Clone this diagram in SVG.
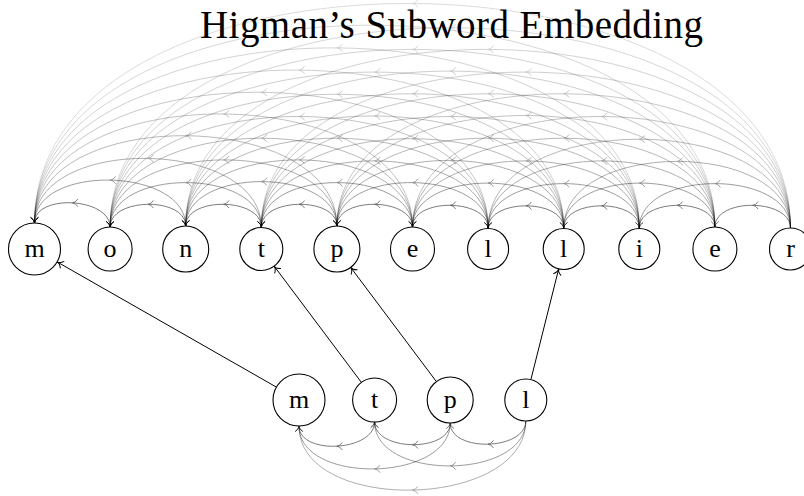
<svg xmlns="http://www.w3.org/2000/svg" xmlns:xlink="http://www.w3.org/1999/xlink" width="804" height="496" viewBox="0 0 804 496">
<defs>
<style>
.title{font-family:"Liberation Serif","DejaVu Serif",serif;font-size:39px;fill:#000}
.lbl{font-family:"Liberation Serif","DejaVu Serif",serif;font-size:26px;fill:#000;text-anchor:middle}
.node circle{fill:none;stroke:#000;stroke-width:1.1}
.c path,.c use{fill:none;stroke:#000;stroke-width:0.85}
.c .arc path{marker-end:url(#ah)}
.c .map{stroke-width:1;marker-end:url(#ahb)}
.k1{opacity:.6}.k2{opacity:.45}.k3{opacity:.37}.k4{opacity:.32}.k5{opacity:.28}
.k6{opacity:.25}.k7{opacity:.22}.k8{opacity:.2}.k9{opacity:.18}.k10{opacity:.16}
</style>
<marker id="ah" markerUnits="userSpaceOnUse" orient="auto" overflow="visible" markerWidth="10" markerHeight="10" refX="0" refY="0">
<path d="M -5.5 -3.8 Q -3 0 0 0 Q -3 0 -5.5 3.8" fill="none" stroke="#000" stroke-width="0.85"/>
</marker>
<marker id="ahb" markerUnits="userSpaceOnUse" orient="auto" overflow="visible" markerWidth="10" markerHeight="10" refX="0" refY="0">
<path d="M -6 -4 Q -3.2 0 0 0 Q -3.2 0 -6 4" fill="none" stroke="#000" stroke-width="1"/>
</marker>
<path id="mid" d="M 5.5 -3.8 Q 3 0 0 0 Q 3 0 5.5 3.8"/>
</defs>

<text class="title" x="200" y="37.5" textLength="503">Higman’s Subword Embedding</text>

<g id="connectors" class="c">
<!-- top arcs, distance 1 -->
<g class="arc k1"><path d="M 110.1 227 C 110.1 197.4 34.5 193.4 34.5 223"/><use href="#mid" x="72.3" y="202.8"/></g>
<g class="arc k1"><path d="M 185.7 226 C 185.7 196.4 110.1 197.4 110.1 227"/><use href="#mid" x="147.9" y="204.3"/></g>
<g class="arc k1"><path d="M 261.3 227 C 261.3 197.4 185.7 196.4 185.7 226"/><use href="#mid" x="223.5" y="204.3"/></g>
<g class="arc k1"><path d="M 336.9 226 C 336.9 196.4 261.3 197.4 261.3 227"/><use href="#mid" x="299.1" y="204.3"/></g>
<g class="arc k1"><path d="M 412.5 227 C 412.5 197.4 336.9 196.4 336.9 226"/><use href="#mid" x="374.7" y="204.3"/></g>
<g class="arc k1"><path d="M 488.1 228 C 488.1 198.4 412.5 197.4 412.5 227"/><use href="#mid" x="450.3" y="205.3"/></g>
<g class="arc k1"><path d="M 563.7 228 C 563.7 198.4 488.1 198.4 488.1 228"/><use href="#mid" x="525.9" y="205.8"/></g>
<g class="arc k1"><path d="M 639.3 228 C 639.3 198.4 563.7 198.4 563.7 228"/><use href="#mid" x="601.5" y="205.8"/></g>
<g class="arc k1"><path d="M 714.9 227 C 714.9 197.4 639.3 198.4 639.3 228"/><use href="#mid" x="677.1" y="205.3"/></g>
<g class="arc k1"><path d="M 790.5 228 C 790.5 198.4 714.9 197.4 714.9 227"/><use href="#mid" x="752.7" y="205.3"/></g>
<!-- distance 2 -->
<g class="arc k2"><path d="M 185.7 226 C 185.7 166.8 34.5 163.8 34.5 223"/><use href="#mid" x="110.1" y="180.1"/></g>
<g class="arc k2"><path d="M 261.3 227 C 261.3 167.8 110.1 167.8 110.1 227"/><use href="#mid" x="185.7" y="182.6"/></g>
<g class="arc k2"><path d="M 336.9 226 C 336.9 166.8 185.7 166.8 185.7 226"/><use href="#mid" x="261.3" y="181.6"/></g>
<g class="arc k2"><path d="M 412.5 227 C 412.5 167.8 261.3 167.8 261.3 227"/><use href="#mid" x="336.9" y="182.6"/></g>
<g class="arc k2"><path d="M 488.1 228 C 488.1 168.8 336.9 166.8 336.9 226"/><use href="#mid" x="412.5" y="182.6"/></g>
<g class="arc k2"><path d="M 563.7 228 C 563.7 168.8 412.5 167.8 412.5 227"/><use href="#mid" x="488.1" y="183.1"/></g>
<g class="arc k2"><path d="M 639.3 228 C 639.3 168.8 488.1 168.8 488.1 228"/><use href="#mid" x="563.7" y="183.6"/></g>
<g class="arc k2"><path d="M 714.9 227 C 714.9 167.8 563.7 168.8 563.7 228"/><use href="#mid" x="639.3" y="183.1"/></g>
<g class="arc k2"><path d="M 790.5 228 C 790.5 168.8 639.3 168.8 639.3 228"/><use href="#mid" x="714.9" y="183.6"/></g>
<!-- distance 3 -->
<g class="arc k3"><path d="M 261.3 227 C 261.3 138.2 34.5 134.2 34.5 223"/><use href="#mid" x="147.9" y="158.4"/></g>
<g class="arc k3"><path d="M 336.9 226 C 336.9 137.2 110.1 138.2 110.1 227"/><use href="#mid" x="223.5" y="159.9"/></g>
<g class="arc k3"><path d="M 412.5 227 C 412.5 138.2 185.7 137.2 185.7 226"/><use href="#mid" x="299.1" y="159.9"/></g>
<g class="arc k3"><path d="M 488.1 228 C 488.1 139.2 261.3 138.2 261.3 227"/><use href="#mid" x="374.7" y="160.9"/></g>
<g class="arc k3"><path d="M 563.7 228 C 563.7 139.2 336.9 137.2 336.9 226"/><use href="#mid" x="450.3" y="160.4"/></g>
<g class="arc k3"><path d="M 639.3 228 C 639.3 139.2 412.5 138.2 412.5 227"/><use href="#mid" x="525.9" y="160.9"/></g>
<g class="arc k3"><path d="M 714.9 227 C 714.9 138.2 488.1 139.2 488.1 228"/><use href="#mid" x="601.5" y="160.9"/></g>
<g class="arc k3"><path d="M 790.5 228 C 790.5 139.2 563.7 139.2 563.7 228"/><use href="#mid" x="677.1" y="161.4"/></g>
<!-- distance 4 -->
<g class="arc k4"><path d="M 336.9 226 C 336.9 107.6 34.5 104.6 34.5 223"/><use href="#mid" x="185.7" y="135.7"/></g>
<g class="arc k4"><path d="M 412.5 227 C 412.5 108.6 110.1 108.6 110.1 227"/><use href="#mid" x="261.3" y="138.2"/></g>
<g class="arc k4"><path d="M 488.1 228 C 488.1 109.6 185.7 107.6 185.7 226"/><use href="#mid" x="336.9" y="138.2"/></g>
<g class="arc k4"><path d="M 563.7 228 C 563.7 109.6 261.3 108.6 261.3 227"/><use href="#mid" x="412.5" y="138.7"/></g>
<g class="arc k4"><path d="M 639.3 228 C 639.3 109.6 336.9 107.6 336.9 226"/><use href="#mid" x="488.1" y="138.2"/></g>
<g class="arc k4"><path d="M 714.9 227 C 714.9 108.6 412.5 108.6 412.5 227"/><use href="#mid" x="563.7" y="138.2"/></g>
<g class="arc k4"><path d="M 790.5 228 C 790.5 109.6 488.1 109.6 488.1 228"/><use href="#mid" x="639.3" y="139.2"/></g>
<!-- distance 5 -->
<g class="arc k5"><path d="M 412.5 227 C 412.5 79 34.5 75 34.5 223"/><use href="#mid" x="223.5" y="114"/></g>
<g class="arc k5"><path d="M 488.1 228 C 488.1 80 110.1 79 110.1 227"/><use href="#mid" x="299.1" y="116.5"/></g>
<g class="arc k5"><path d="M 563.7 228 C 563.7 80 185.7 78 185.7 226"/><use href="#mid" x="374.7" y="116"/></g>
<g class="arc k5"><path d="M 639.3 228 C 639.3 80 261.3 79 261.3 227"/><use href="#mid" x="450.3" y="116.5"/></g>
<g class="arc k5"><path d="M 714.9 227 C 714.9 79 336.9 78 336.9 226"/><use href="#mid" x="525.9" y="115.5"/></g>
<g class="arc k5"><path d="M 790.5 228 C 790.5 80 412.5 79 412.5 227"/><use href="#mid" x="601.5" y="116.5"/></g>
<!-- distance 6 -->
<g class="arc k6"><path d="M 488.1 228 C 488.1 50.4 34.5 45.4 34.5 223"/><use href="#mid" x="261.3" y="92.3"/></g>
<g class="arc k6"><path d="M 563.7 228 C 563.7 50.4 110.1 49.4 110.1 227"/><use href="#mid" x="336.9" y="94.3"/></g>
<g class="arc k6"><path d="M 639.3 228 C 639.3 50.4 185.7 48.4 185.7 226"/><use href="#mid" x="412.5" y="93.8"/></g>
<g class="arc k6"><path d="M 714.9 227 C 714.9 49.4 261.3 49.4 261.3 227"/><use href="#mid" x="488.1" y="93.8"/></g>
<g class="arc k6"><path d="M 790.5 228 C 790.5 50.4 336.9 48.4 336.9 226"/><use href="#mid" x="563.7" y="93.8"/></g>
<!-- distance 7 -->
<g class="arc k7"><path d="M 563.7 228 C 563.7 20.8 34.5 15.8 34.5 223"/><use href="#mid" x="299.1" y="70.1"/></g>
<g class="arc k7"><path d="M 639.3 228 C 639.3 20.8 110.1 19.8 110.1 227"/><use href="#mid" x="374.7" y="72.1"/></g>
<g class="arc k7"><path d="M 714.9 227 C 714.9 19.8 185.7 18.8 185.7 226"/><use href="#mid" x="450.3" y="71.1"/></g>
<g class="arc k7"><path d="M 790.5 228 C 790.5 20.8 261.3 19.8 261.3 227"/><use href="#mid" x="525.9" y="72.1"/></g>
<!-- distance 8 -->
<g class="arc k8"><path d="M 639.3 228 C 639.3 -8.8 34.5 -13.8 34.5 223"/><use href="#mid" x="336.9" y="47.9"/></g>
<g class="arc k8"><path d="M 714.9 227 C 714.9 -9.8 110.1 -9.8 110.1 227"/><use href="#mid" x="412.5" y="49.4"/></g>
<g class="arc k8"><path d="M 790.5 228 C 790.5 -8.8 185.7 -10.8 185.7 226"/><use href="#mid" x="488.1" y="49.4"/></g>
<!-- distance 9 -->
<g class="arc k9"><path d="M 714.9 227 C 714.9 -39.4 34.5 -43.4 34.5 223"/><use href="#mid" x="374.7" y="25.2"/></g>
<g class="arc k9"><path d="M 790.5 228 C 790.5 -38.4 110.1 -39.4 110.1 227"/><use href="#mid" x="450.3" y="27.7"/></g>
<!-- distance 10 -->
<g class="arc k10"><path d="M 790.5 228 C 790.5 -68 34.5 -73 34.5 223"/><use href="#mid" x="412.5" y="3.5"/></g>

<!-- bottom arcs -->
<g class="arc k1"><path d="M 374.6 422 C 374.6 451.6 299 455.6 299 426"/><use href="#mid" x="336.8" y="446.2"/></g>
<g class="arc k1"><path d="M 450.2 423 C 450.2 452.6 374.6 451.6 374.6 422"/><use href="#mid" x="412.4" y="444.7"/></g>
<g class="arc k1"><path d="M 525.8 421 C 525.8 450.6 450.2 452.6 450.2 423"/><use href="#mid" x="488" y="444.2"/></g>
<g class="arc k2"><path d="M 450.2 423 C 450.2 482.2 299 485.2 299 426"/><use href="#mid" x="374.6" y="468.9"/></g>
<g class="arc k2"><path d="M 525.8 421 C 525.8 480.2 374.6 481.2 374.6 422"/><use href="#mid" x="450.2" y="465.9"/></g>
<g class="arc k3"><path d="M 525.8 421 C 525.8 509.8 299 514.8 299 426"/><use href="#mid" x="412.4" y="490.1"/></g>

<!-- embedding map -->
<path class="map" d="M 276.4 387.1 L 57.1 261.9"/>
<path class="map" d="M 361.4 382.4 L 274.2 266.2"/>
<path class="map" d="M 436.4 381.6 L 350.7 267.4"/>
<path class="map" d="M 530.9 379.6 L 558.7 268.9"/>
</g>

<g id="top-m" class="node"><circle cx="34.5" cy="249" r="26"/><text class="lbl" x="34.5" y="257">m</text></g>
<g id="top-o" class="node"><circle cx="110.1" cy="249" r="22"/><text class="lbl" x="110.1" y="257">o</text></g>
<g id="top-n" class="node"><circle cx="185.7" cy="249" r="23"/><text class="lbl" x="185.7" y="257">n</text></g>
<g id="top-t" class="node"><circle cx="261.3" cy="249" r="21.5"/><text class="lbl" x="261.3" y="257">t</text></g>
<g id="top-p" class="node"><circle cx="336.9" cy="249" r="23"/><text class="lbl" x="336.9" y="257">p</text></g>
<g id="top-e1" class="node"><circle cx="412.5" cy="249" r="22"/><text class="lbl" x="412.5" y="257">e</text></g>
<g id="top-l1" class="node"><circle cx="488.1" cy="249" r="20.5"/><text class="lbl" x="488.1" y="257">l</text></g>
<g id="top-l2" class="node"><circle cx="563.7" cy="249" r="20.5"/><text class="lbl" x="563.7" y="257">l</text></g>
<g id="top-i" class="node"><circle cx="639.3" cy="249" r="20.5"/><text class="lbl" x="639.3" y="257">i</text></g>
<g id="top-e2" class="node"><circle cx="714.9" cy="249" r="22"/><text class="lbl" x="714.9" y="257">e</text></g>
<g id="top-r" class="node"><circle cx="790.5" cy="249" r="21"/><text class="lbl" x="790.5" y="257">r</text></g>

<g id="bot-m" class="node"><circle cx="299" cy="400" r="26"/><text class="lbl" x="299" y="408">m</text></g>
<g id="bot-t" class="node"><circle cx="374.6" cy="400" r="22"/><text class="lbl" x="374.6" y="408">t</text></g>
<g id="bot-p" class="node"><circle cx="450.2" cy="400" r="23"/><text class="lbl" x="450.2" y="408">p</text></g>
<g id="bot-l" class="node"><circle cx="525.8" cy="400" r="21"/><text class="lbl" x="525.8" y="408">l</text></g>
</svg>
